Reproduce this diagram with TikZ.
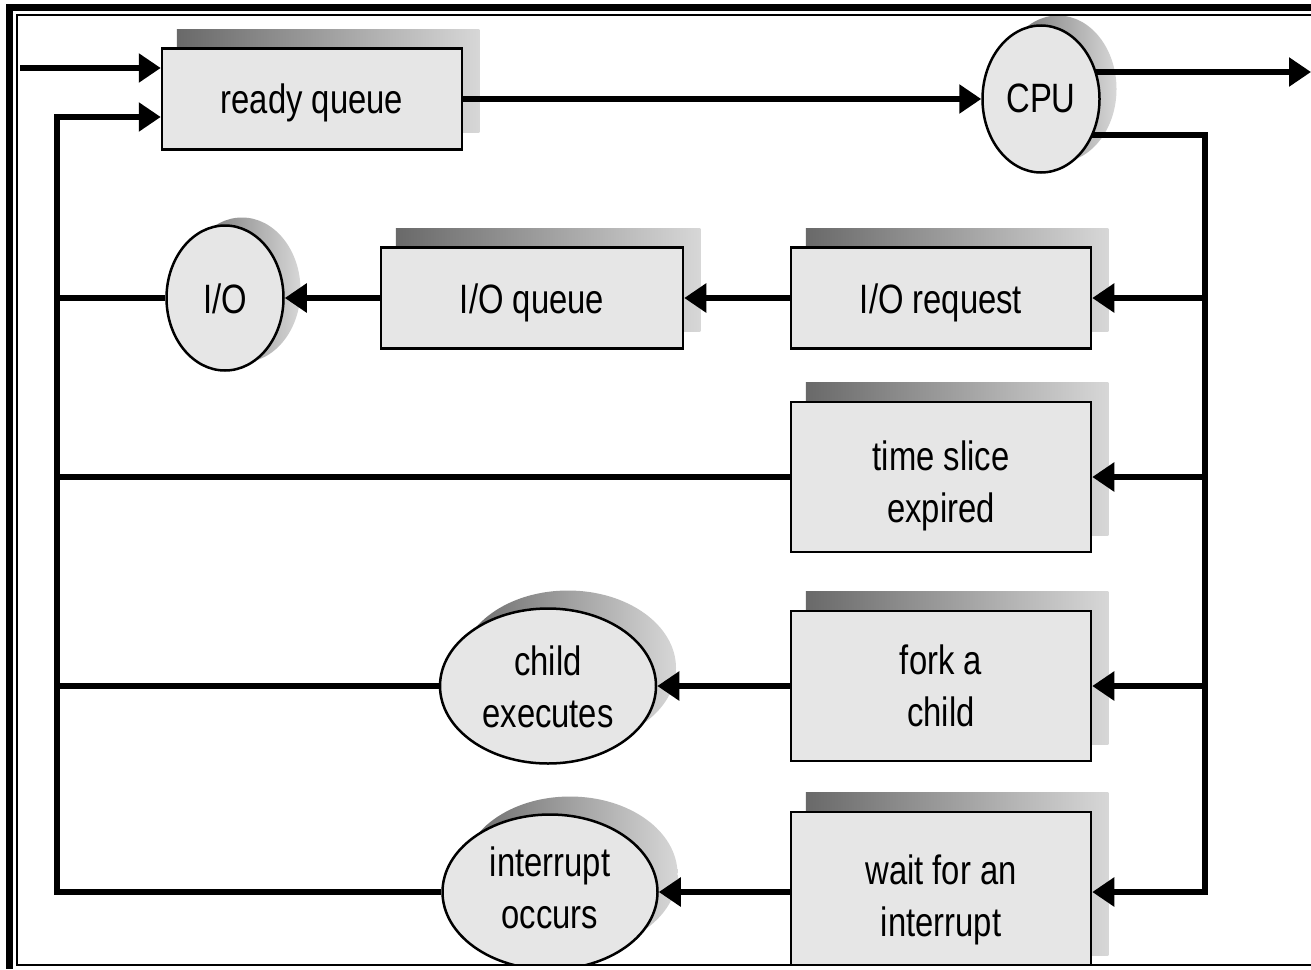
\documentclass[tikz,border=0pt]{standalone}
\usepackage{fontspec}
\setmainfont{Liberation Sans}[FakeStretch=0.8]
\usetikzlibrary{shapes.geometric,arrows.meta,calc}
\pgfdeclarelayer{shadow}
\pgfdeclarelayer{wires}
\pgfsetlayers{shadow,wires,main}
\definecolor{boxfill}{RGB}{230,230,230}
\definecolor{shdark}{RGB}{105,105,105}
\definecolor{shlight}{RGB}{215,215,215}
\newcommand\shtext[2]{\raisebox{#1}[\height][\depth]{\begin{tabular}{@{}c@{}}#2\end{tabular}}}
\begin{document}
\begin{tikzpicture}[x=1pt,y=-1pt,
  lbl/.style={font=\fontsize{41}{52}\selectfont, align=center},
  box/.style={lbl, draw=black, line width=2.5pt, fill=boxfill, minimum width=300pt, minimum height=101pt, inner sep=0pt},
  oval/.style={lbl, ellipse, draw=black, line width=2.5pt, fill=boxfill, inner sep=0pt},
  wire/.style={line width=6pt},
  arr/.style={wire, -{Triangle[length=22pt,width=28pt]}},
  shadowfill/.style={left color=shdark, right color=shlight, draw=none}]
\useasboundingbox (0,0) rectangle (1311,969);

% nodes
\node[box] (rq) at (312,99) {\shtext{-4pt}{ready queue}};
\node[oval, minimum width=117pt, minimum height=147pt] (cpu) at (1041,99) {\shtext{-3pt}{CPU}};
\node[box] (ior) at (941,298) {\shtext{-5pt}{I/O request}};
\node[box, minimum width=302pt] (ioq) at (532,298) {\shtext{-5pt}{I/O queue}};
\node[oval, minimum width=117pt, minimum height=145pt] (io) at (225,298) {\shtext{-5pt}{I/O}};
\node[box, minimum height=150pt] (ts) at (941,477) {\shtext{-9pt}{time slice\\expired}};
\node[box, minimum height=150pt] (fk) at (941,686) {\shtext{-4pt}{fork a\\child}};
\node[oval, minimum width=216pt, minimum height=155pt] (ce) at (548,686) {\shtext{-5pt}{child\\executes}};
\node[box, minimum height=160pt] (wi) at (941,892) {\shtext{-8pt}{wait for an\\interrupt}};
\node[oval, minimum width=215pt, minimum height=155pt] (ic) at (550,892) {\shtext{0pt}{interrupt\\occurs}};

% shadows
\begin{pgfonlayer}{shadow}
  \fill[white] (0,0) rectangle (1311,969);
  \foreach \n in {rq,ior,ioq,ts,fk,wi}
    \shade[shadowfill] ([shift={(16,-18)}]\n.south west) rectangle ([shift={(16,-18)}]\n.north east);
  \shade[shadowfill] ([shift={(17,-10)}]cpu.center) ellipse [x radius=58.5, y radius=73.5];
  \shade[shadowfill] ([shift={(17,-8)}]io.center) ellipse [x radius=58.5, y radius=72.5];
  \shade[shadowfill] ([shift={(20,-18)}]ce.center) ellipse [x radius=108, y radius=77.5];
  \shade[shadowfill] ([shift={(20,-18)}]ic.center) ellipse [x radius=107.5, y radius=77.5];
\end{pgfonlayer}

% connectors
\begin{pgfonlayer}{wires}
  \coordinate (in1) at (20,68);
  \coordinate (lb) at (57,117);
  \coordinate (rb) at (1205,135);
  \coordinate (out) at (1311,72);
  \draw[arr] (in1) -- (in1 -| rq.west);
  \draw[arr] (ic.west) -- (ic.west -| lb) -- (lb) -- (lb -| rq.west);
  \draw[wire] (io.west) -- (io.west -| lb);
  \draw[wire] (ts.west) -- (ts.west -| lb);
  \draw[wire] (ce.west) -- (ce.west -| lb);
  \draw[arr] (rq.east) -- (cpu.west);
  \draw[arr] (cpu.center |- out) -- (out);
  \draw[arr] (cpu.center |- rb) -- (rb) -- (rb |- wi.east) -- (wi.east);
  \draw[arr] (rb |- ior.east) -- (ior.east);
  \draw[arr] (rb |- ts.east) -- (ts.east);
  \draw[arr] (rb |- fk.east) -- (fk.east);
  \draw[arr] (ior.west) -- (ioq.east);
  \draw[arr] (ioq.west) -- (io.east);
  \draw[arr] (fk.west) -- (ce.east);
  \draw[arr] (wi.west) -- (ic.east);
\end{pgfonlayer}

% frame
\fill[white] (14,965) rectangle (1311,985);
\fill[black] (6,4) rectangle (1311,11);
\fill[black] (6,4) rectangle (13,969);
\draw[line width=2pt] (1311,15) -- (17,15) -- (17,965) -- (1311,965);
\end{tikzpicture}
\end{document}
